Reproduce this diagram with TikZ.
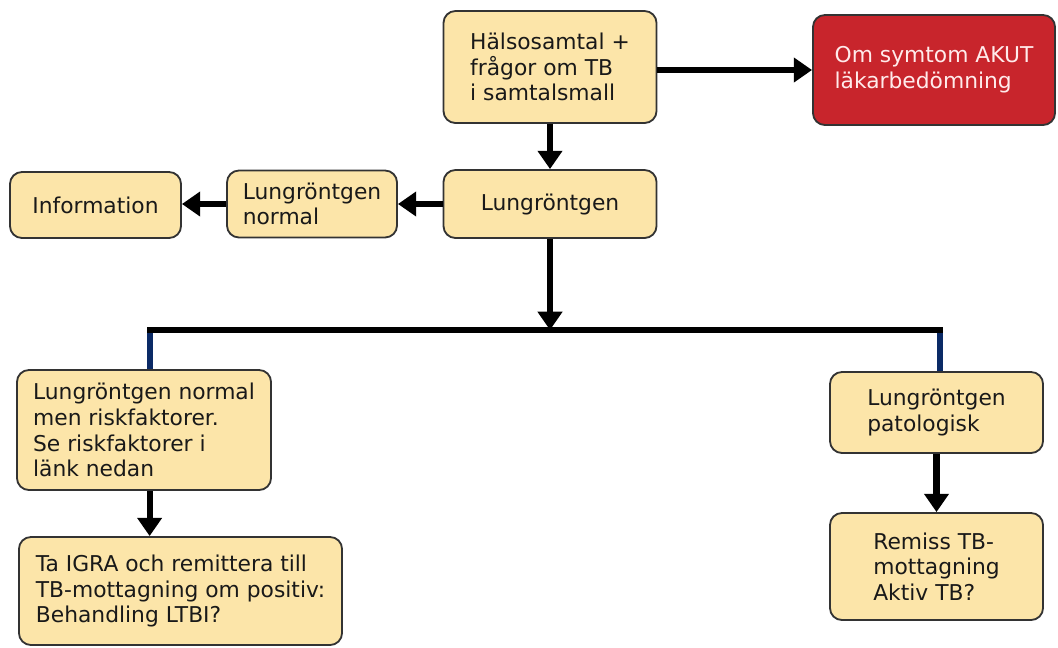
\documentclass[tikz,border=0pt]{standalone}
\usepackage{fontspec}
\setmainfont{DejaVu Sans}
\usetikzlibrary{arrows.meta}
\definecolor{boxfill}{HTML}{FCE5A9}
\definecolor{akutred}{HTML}{C8252C}
\definecolor{stubblue}{HTML}{0B2A66}
\tikzset{
  flowbox/.style={draw=black!80, line width=1.3pt, rounded corners=0.3cm, fill=boxfill,
    align=left, font=\fontsize{15.5}{18.3}\selectfont, inner sep=0pt, text=black!90},
  flowarrow/.style={line width=4.3pt, -{Triangle[length=13pt,width=17pt]}},
  barline/.style={line width=4.3pt},
  stubline/.style={line width=4pt, stubblue},
}
\begin{document}
\begin{tikzpicture}[x=0.025cm,y=-0.025cm]
\useasboundingbox (0,0) rectangle (1058,647);
% top row
\node[flowbox, minimum width=5.325cm, minimum height=2.8cm] (halso) at (550,67)
  {Hälsosamtal +\\frågor om TB\\i samtalsmall};
\node[flowbox, fill=akutred, text=white!92!red, minimum width=6.05cm, minimum height=2.75cm] (akut) at (934,70)
  {Om symtom AKUT\\läkarbedömning};
% second row
\node[flowbox, minimum width=5.325cm, minimum height=1.7cm] (lung) at (550,204) {Lungröntgen};
\node[flowbox, minimum width=4.25cm, minimum height=1.675cm] (lungnorm) at (312,204) {Lungröntgen\\normal};
\node[flowbox, minimum width=4.275cm, minimum height=1.65cm] (info) at (95.5,205) {Information};
% lower part
\node[flowbox, minimum width=6.35cm, minimum height=3cm] (risk) at (144,430)
  {Lungröntgen normal\\men riskfaktorer.\\Se riskfaktorer i\\länk nedan};
\node[flowbox, minimum width=8.075cm, minimum height=2.7cm] (igra) at (180.5,591)
  {Ta IGRA och remittera till\\TB-mottagning om positiv:\\Behandling LTBI?};
\node[flowbox, minimum width=5.325cm, minimum height=2.025cm] (pato) at (936.5,412.5)
  {Lungröntgen\\patologisk};
\node[flowbox, minimum width=5.325cm, minimum height=2.675cm] (remiss) at (936.5,566.5)
  {Remiss TB-\\mottagning\\Aktiv TB?};
% split bar
\coordinate (barL) at (150,330);
\coordinate (barM) at (550,330);
\coordinate (barR) at (940,330);
\draw[stubline] (barL) -- (barL |- risk.north);
\draw[stubline] (barR) -- (barR |- pato.north);
\draw[barline] ([xshift=-2pt]barL) -- ([xshift=2pt]barR);
% arrows
\draw[flowarrow] (akut.west -| halso.east) -- (akut.west);
\draw[flowarrow] (halso.south) -- (lung.north);
\draw[flowarrow] (lung.west) -- (lung.west -| lungnorm.east);
\draw[flowarrow] (lungnorm.west) -- (lungnorm.west -| info.east);
\draw[flowarrow] (lung.south) -- (barM);
\draw[flowarrow] ([xshift=4]risk.south) -- ([xshift=4]risk.south |- igra.north);
\draw[flowarrow] (pato.south) -- (remiss.north);
\end{tikzpicture}
\end{document}
